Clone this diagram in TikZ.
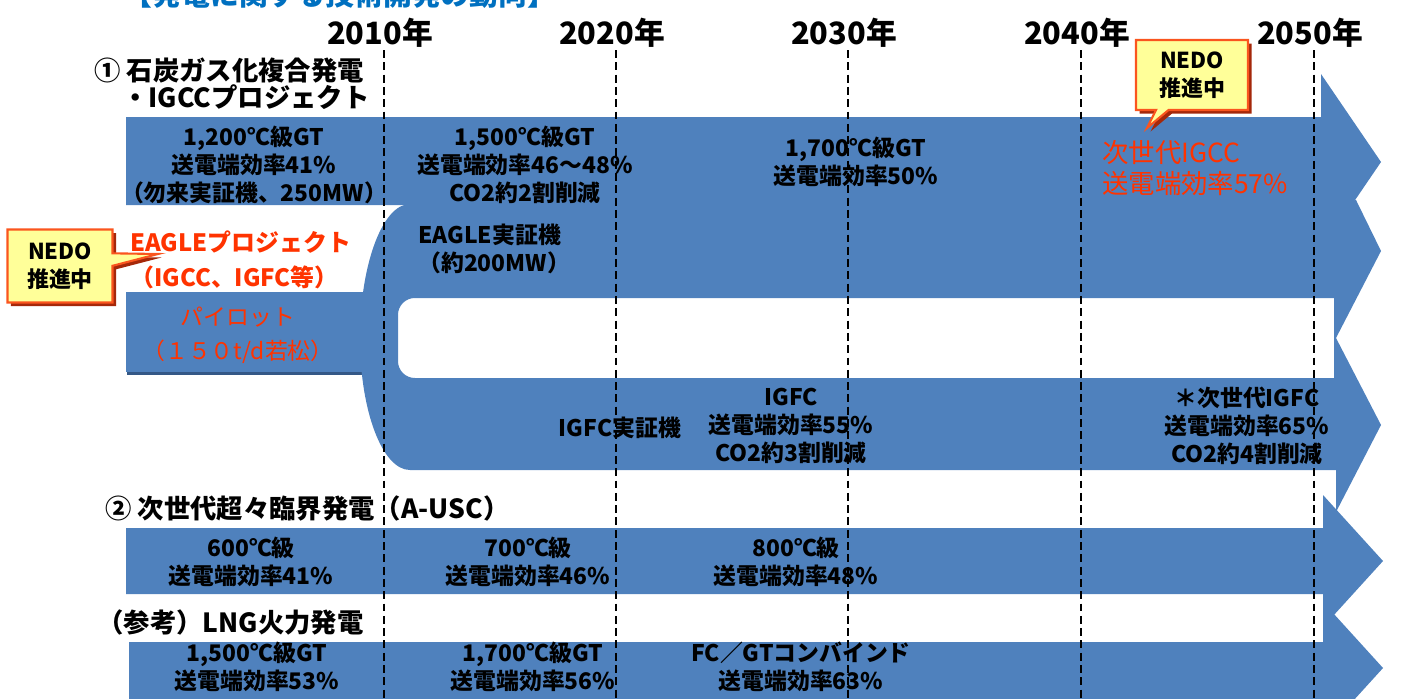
\documentclass[tikz,border=0pt]{standalone}
\usepackage{fontspec}
\setmainfont{Noto Sans CJK JP}
\usepackage{tikz}
\usetikzlibrary{shapes.callouts, shadows, positioning}
\definecolor{bandblue}{RGB}{79,129,189}
\definecolor{pilotshade}{RGB}{52,88,134}
\definecolor{alertred}{RGB}{255,51,0}
\definecolor{titleblue}{RGB}{0,112,192}
\definecolor{noteyellow}{RGB}{255,255,153}
\definecolor{notered}{RGB}{250,85,30}
\definecolor{noteshade}{RGB}{165,40,10}

\begin{document}
\begin{tikzpicture}[
    x=0.2mm, y=-0.2mm,
    band/.style={fill=bandblue},
    bandtext/.style={font=\bfseries\fontsize{13}{16}\selectfont, align=center, inner sep=0pt},
    redlabel/.style={font=\fontsize{15}{17.6}\selectfont, text=alertred, align=left, inner sep=0pt},
    heading/.style={font=\bfseries\fontsize{15}{18}\selectfont, anchor=west, inner sep=0pt},
    yearlabel/.style={font=\bfseries\fontsize{17.5}{20}\selectfont, inner sep=0pt},
    yearline/.style={line width=1pt, dash pattern=on 4.5pt off 2.5pt},
    nedo/.style={rectangle callout, fill=noteyellow, draw=notered, line width=1.2pt, align=center, font=\bfseries\fontsize{12.5}{16}\selectfont, drop shadow={shadow xshift=0.7mm, shadow yshift=-0.7mm, fill=noteshade, opacity=1}},
]
    \useasboundingbox (0,0) rectangle (1415,698);
    \clip (0,0) rectangle (1415,698);

    \node[font=\bfseries\fontsize{16.4}{18}\selectfont, text=titleblue, inner sep=0pt] (title) at (340,-5) {【発電に関する技術開発の動向】};

    \coordinate (t2010) at (384,50);
    \coordinate (t2020) at (616,50);
    \coordinate (t2030) at (848,50);
    \coordinate (t2040) at (1081,50);
    \coordinate (t2050) at (1314,50);
    \node[yearlabel, above=1pt of t2010, xshift=-0.8mm] (y2010) {2010年};
    \node[yearlabel, above=1pt of t2020, xshift=-0.8mm] (y2020) {2020年};
    \node[yearlabel, above=1pt of t2030, xshift=-0.8mm] (y2030) {2030年};
    \node[yearlabel, above=1pt of t2040, xshift=-0.8mm] (y2040) {2040年};
    \node[yearlabel, above=1pt of t2050, xshift=-0.8mm] (y2050) {2050年};

    \node[heading] (coalHead) at (94,70) {① 石炭ガス化複合発電};
    \node[heading] (coalSub) at (122,97) {・IGCCプロジェクト};
    \node[heading] (uscHead) at (105,508) {② 次世代超々臨界発電（A-USC）};
    \node[heading] (lngHead) at (97,622) {（参考）LNG火力発電};

    \fill[band] (126,117) -- (1321,117) -- (1321,74) -- (1381,162) -- (1321,250) -- (1321,205) -- (126,205) -- cycle;
    \fill[pilotshade] (127,295) rectangle (366,375);
    \fill[band] (126,292) rectangle (366,372);
    \fill[band, even odd rule] (410,204) -- (1340,204) -- (1356,200) -- (1381,251) -- (1336,338) -- (1381,425) -- (1336,512) -- (1336,470) -- (410,470)
        .. controls (382.4,470) and (360,410.9) .. (360,338)
        .. controls (360,265.1) and (382.4,204) .. (410,204) -- cycle
        (1334,298) [rounded corners=9.6pt] -- (398,298) -- (398,378) [sharp corners] -- (1334,378) -- cycle;
    \fill[band] (126,528) -- (1323,528) -- (1323,495) -- (1383,561) -- (1323,627) -- (1323,594) -- (126,594) -- cycle;
    \fill[band] (129,642) -- (1323,642) -- (1323,602) -- (1383,668) -- (1323,734) -- (1323,700) -- (129,700) -- cycle;

    \node[bandtext] (igcc1200) at (254,165) {1,200℃級GT\\送電端効率41\%\\（勿来実証機、250MW）};
    \node[bandtext] (igcc1500) at (525,165) {1,500℃級GT\\送電端効率46～48\%\\CO2約2割削減};
    \node[bandtext] (igcc1700) at (856,162) {1,700℃級GT\\送電端効率50\%};
    \node[redlabel, anchor=west] (igccNext) at (1102,168) {次世代IGCC\\送電端効率57\%};
    \node[redlabel, font=\bfseries\fontsize{13.6}{19.8}\selectfont, anchor=west] (eagleProj) at (130,260) {EAGLEプロジェクト\\（IGCC、IGFC等）};
    \node[redlabel, font=\fontsize{13}{19.3}\selectfont, align=center] (pilot) at (238,335) {パイロット\\（１５０t/d若松）};
    \node[bandtext, align=left, anchor=west] (eagleDemo) at (418,249) {EAGLE実証機\\（約200MW）};
    \node[bandtext] (igfcDemo) at (620,428) {IGFC実証機};
    \node[bandtext] (igfcMid) at (791,426) {IGFC\\送電端効率55\%\\CO2約3割削減};
    \node[bandtext] (igfcNext) at (1247,426) {＊次世代IGFC\\送電端効率65\%\\CO2約4割削減};
    \node[bandtext] (usc600) at (251,562) {600℃級\\送電端効率41\%};
    \node[bandtext] (usc700) at (528,562) {700℃級\\送電端効率46\%};
    \node[bandtext] (usc800) at (796,562) {800℃級\\送電端効率48\%};
    \node[bandtext] (lng1500) at (257,667) {1,500℃級GT\\送電端効率53\%};
    \node[bandtext] (lng1700) at (533,667) {1,700℃級GT\\送電端効率56\%};
    \node[bandtext] (lngFC) at (801,667) {FC／GTコンバインド\\送電端効率63\%};

    \node[nedo, minimum width=21mm, minimum height=14.6mm, callout absolute pointer={(158,254)}] (nedoLeft) at (60,266) {NEDO\\推進中};
    \node[nedo, minimum width=22.4mm, minimum height=14mm, callout absolute pointer={(1147,128)}] (nedoTop) at (1192,75) {NEDO\\推進中};

    \draw[yearline] (t2010) -- ++(0,650);
    \draw[yearline] (t2020) -- ++(0,650);
    \draw[yearline] (t2030) -- ++(0,650);
    \draw[yearline] (t2040) -- ++(0,650);
    \draw[yearline] (t2050) -- ++(0,650);
\end{tikzpicture}
\end{document}
